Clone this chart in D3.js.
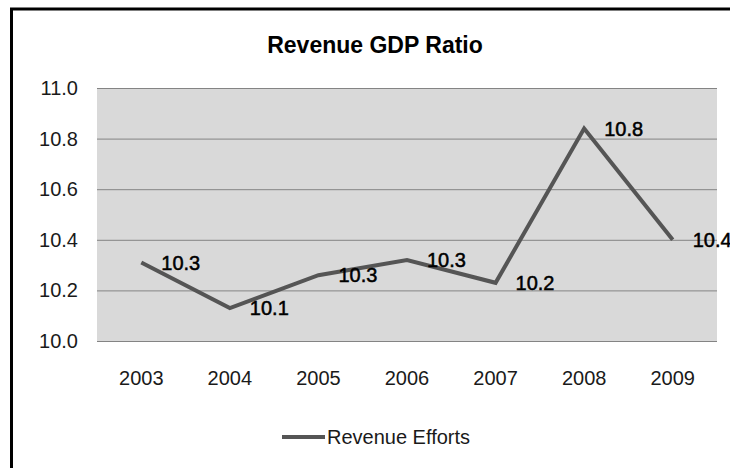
<!DOCTYPE html>
<html>
<head>
<meta charset="utf-8">
<script src="https://cdn.jsdelivr.net/npm/d3@7"></script>
<style>
  body { margin: 0; background: #fff; }
  svg { display: block; font-family: "Liberation Sans", Arial, sans-serif; }
</style>
</head>
<body>
<div id="chart"></div>
<script>
const years = ["2003", "2004", "2005", "2006", "2007", "2008", "2009"];
const revenueEfforts = [10.31, 10.13, 10.26, 10.32, 10.23, 10.84, 10.40];
const yTicks = [10.0, 10.2, 10.4, 10.6, 10.8, 11.0];
const seriesName = "Revenue Efforts";
const chartTitle = "Revenue GDP Ratio";

const width = 730, height = 468;
const plot = { left: 97, right: 717, top: 88, bottom: 341 };

const svg = d3.select("#chart").append("svg")
  .attr("width", width)
  .attr("height", height);

// outer frame (runs off the right and bottom edge)
svg.append("rect")
  .attr("x", 11.5).attr("y", 9)
  .attr("width", 800).attr("height", 600)
  .attr("fill", "#fff")
  .attr("stroke", "#000")
  .attr("stroke-width", 3);

const x = d3.scaleBand()
  .domain(years)
  .range([plot.left, plot.right]);

const y = d3.scaleLinear()
  .domain([10.0, 11.0])
  .range([plot.bottom, plot.top]);

// plot background
svg.append("rect")
  .attr("x", plot.left).attr("y", plot.top)
  .attr("width", plot.right - plot.left)
  .attr("height", plot.bottom - plot.top)
  .attr("fill", "#d9d9d9");

// grid lines
svg.append("g")
  .attr("transform", `translate(${plot.left},0)`)
  .call(d3.axisLeft(y).tickValues(yTicks).tickSize(-(plot.right - plot.left)).tickFormat(""))
  .call(g => g.select(".domain").remove())
  .selectAll("line")
  .attr("stroke", "#848484")
  .attr("stroke-width", 1);

// y axis labels
svg.append("g")
  .attr("transform", `translate(${plot.left},0)`)
  .call(d3.axisLeft(y).tickValues(yTicks).tickSize(0).tickPadding(19).tickFormat(d3.format(".1f")))
  .call(g => g.select(".domain").remove())
  .selectAll("text")
  .attr("font-family", "Liberation Sans, Arial, sans-serif")
  .attr("font-size", 20)
  .attr("fill", "#1a1a1a");

// x axis labels
svg.append("g")
  .attr("transform", `translate(0,${plot.bottom})`)
  .call(d3.axisBottom(x).tickSize(0).tickPadding(30))
  .call(g => g.select(".domain").remove())
  .selectAll("text")
  .attr("font-family", "Liberation Sans, Arial, sans-serif")
  .attr("font-size", 20)
  .attr("fill", "#1a1a1a");

const points = years.map((yr, i) => ({ year: yr, value: revenueEfforts[i] }));

const line = d3.line()
  .x(d => x(d.year) + x.bandwidth() / 2)
  .y(d => y(d.value));

svg.append("path")
  .datum(points)
  .attr("fill", "none")
  .attr("stroke", "#555")
  .attr("stroke-width", 4)
  .attr("stroke-linejoin", "miter")
  .attr("d", line);

// data labels
svg.selectAll(".dlabel")
  .data(points)
  .enter().append("text")
  .attr("class", "dlabel")
  .attr("x", d => x(d.year) + x.bandwidth() / 2 + 20)
  .attr("y", d => y(d.value))
  .attr("dy", "0.36em")
  .attr("font-size", 20)
  .attr("fill", "#000")
  .attr("stroke", "#000")
  .attr("stroke-width", 0.5)
  .text(d => d3.format(".1f")(d.value));

// title
svg.append("text")
  .attr("x", 375)
  .attr("y", 53)
  .attr("text-anchor", "middle")
  .attr("font-size", 23)
  .attr("font-weight", "bold")
  .attr("fill", "#000")
  .text(chartTitle);

// legend
const legend = svg.append("g").attr("transform", "translate(282,437)");
legend.append("line")
  .attr("x1", 0).attr("x2", 43)
  .attr("stroke", "#555")
  .attr("stroke-width", 4);
legend.append("text")
  .attr("x", 45)
  .attr("y", 0)
  .attr("dy", "0.36em")
  .attr("font-size", 20)
  .attr("fill", "#1a1a1a")
  .text(seriesName);
</script>
</body>
</html>
